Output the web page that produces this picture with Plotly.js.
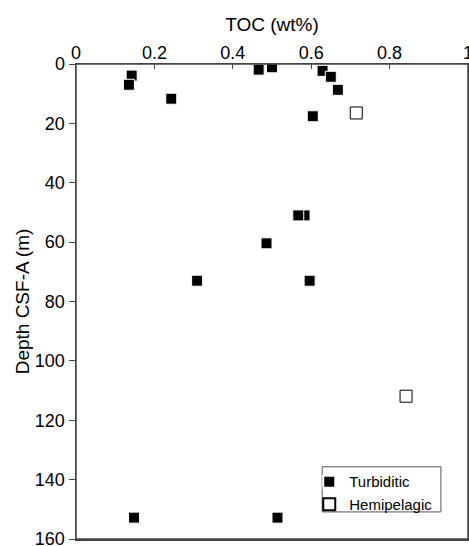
<!DOCTYPE html>
<html>
<head>
<meta charset="utf-8">
<script src="https://cdn.plot.ly/plotly-3.0.1.min.js"></script>
<style>
  html, body { margin: 0; padding: 0; background: #fff; overflow: hidden; }
  #chart { width: 469px; height: 546px; }
</style>
</head>
<body>
<div id="chart"></div>
<script>
// TOC (wt%) against depth
const turbiditicToc   = [0.142, 0.135, 0.243, 0.466, 0.500, 0.629, 0.650, 0.668, 0.604, 0.583, 0.567, 0.486, 0.309, 0.596, 0.148, 0.514];
const turbiditicDepth = [3.9, 7.0, 11.7, 1.9, 1.1, 2.3, 4.3, 8.7, 17.6, 51.0, 51.0, 60.4, 73.0, 73.0, 152.8, 152.8];
const hemipelagicToc   = [0.715, 0.842];
const hemipelagicDepth = [16.5, 111.9];

const xTicks = [0, 0.2, 0.4, 0.6, 0.8, 1];
const xTickLabels = ['0', '0.2', '0.4', '0.6', '0.8', '1'];
const yTicks = [0, 20, 40, 60, 80, 100, 120, 140, 160];

const FONT = 'Liberation Sans, Arial, Helvetica, sans-serif';
const AXIS = '#444';

const turbiditic = {
    x: turbiditicToc,
    y: turbiditicDepth,
    type: 'scatter',
    mode: 'markers',
    name: 'Turbiditic',
    marker: { symbol: 'square', size: 11, color: '#000', line: { color: '#fff', width: 1 } }
};

const hemipelagic = {
    x: hemipelagicToc,
    y: hemipelagicDepth,
    type: 'scatter',
    mode: 'markers',
    name: 'Hemipelagic',
    marker: { symbol: 'square', size: 12, color: '#fff', line: { color: '#000', width: 1 } }
};

// frame round the plot area and the box round the legend
const frame = {
    type: 'rect', xref: 'paper', yref: 'paper',
    x0: 0, x1: 1, y0: 0, y1: 1,
    line: { color: AXIS, width: 1.5 }, layer: 'above'
};
const legendBox = {
    type: 'rect', xref: 'paper', yref: 'paper',
    x0: 0.628, x1: 0.931, y0: 0.057, y1: 0.152,
    line: { color: '#555', width: 1 }, fillcolor: '#fff', layer: 'below'
};

const layout = {
    width: 469,
    height: 546,
    margin: { l: 76, r: 1, t: 64, b: 7, pad: 0 },
    paper_bgcolor: '#fff',
    plot_bgcolor: 'rgba(0,0,0,0)',
    font: { family: FONT, size: 18, color: '#000' },
    showlegend: true,
    legend: {
        x: 0.595, y: 0.155, xanchor: 'left', yanchor: 'top',
        bgcolor: 'rgba(0,0,0,0)', borderwidth: 0,
        font: { family: FONT, size: 15, color: '#000' },
        itemsizing: 'constant',
        tracegroupgap: 0
    },
    shapes: [legendBox, frame],
    xaxis: {
        side: 'top',
        range: [0, 1],
        tickvals: xTicks,
        ticktext: xTickLabels,
        ticks: 'inside',
        ticklen: 5,
        tickcolor: AXIS,
        ticklabelstandoff: -4,
        ticklabeloverflow: 'allow',
        showgrid: false,
        zeroline: false,
        showline: true,
        linecolor: AXIS,
        linewidth: 1.5,
        mirror: true,
        title: { text: 'TOC (wt%)', font: { family: FONT, size: 19 }, standoff: 6 },
        fixedrange: true
    },
    yaxis: {
        range: [160, 0],
        tickvals: yTicks,
        ticks: 'outside',
        ticklen: 6,
        tickcolor: AXIS,
        ticklabeloverflow: 'allow',
        showgrid: false,
        zeroline: false,
        showline: true,
        linecolor: AXIS,
        linewidth: 1.5,
        mirror: true,
        title: { text: 'Depth CSF-A (m)', font: { family: FONT, size: 19 }, standoff: 0 },
        fixedrange: true
    }
};

Plotly.newPlot('chart', [turbiditic, hemipelagic], layout, { staticPlot: true, displayModeBar: false });
</script>
</body>
</html>
